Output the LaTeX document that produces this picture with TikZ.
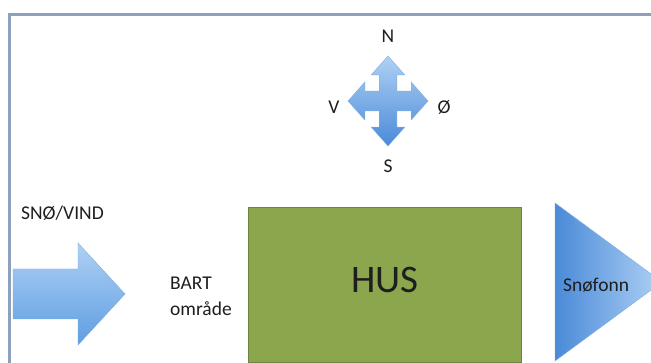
\documentclass[tikz,border=0pt]{standalone}
\usepackage{fontspec}
\setmainfont{Carlito}
\definecolor{framec}{HTML}{8DA1BC}
\definecolor{husgreen}{HTML}{8BA64D}
\definecolor{bluelight}{HTML}{AFD1F4}
\definecolor{bluemid}{HTML}{5E9DE2}
\definecolor{bluedark}{HTML}{4A8AD8}
\definecolor{txt}{HTML}{1E1E1E}
\begin{document}
\begin{tikzpicture}[x=1pt,y=-1pt,
  lbl/.style={font=\fontsize{19.5}{23}\selectfont, text=txt, inner sep=0pt},
  biglbl/.style={font=\fontsize{39}{46}\selectfont, text=txt, inner sep=0pt},
  blueshape/.style={draw=bluedark!70, line width=0.4pt}]
\useasboundingbox (0,0) rectangle (651,363);
\clip (0,0) rectangle (651,363);
\fill[white] (0,0) rectangle (651,363);
% frame
\draw[framec, line width=3pt] (9.5,15) rectangle (700,420);
% compass
\begin{scope}[shift={(388,101)}, x=40pt, y=-45pt]
\shade[top color=bluelight, bottom color=bluedark, blueshape]
 (0,-1) -- (0.42,-0.58) -- (0.22,-0.58) -- (0.22,-0.22) -- (0.58,-0.22) -- (0.58,-0.42)
 -- (1,0) -- (0.58,0.42) -- (0.58,0.22) -- (0.22,0.22) -- (0.22,0.58) -- (0.42,0.58)
 -- (0,1) -- (-0.42,0.58) -- (-0.22,0.58) -- (-0.22,0.22) -- (-0.58,0.22) -- (-0.58,0.42)
 -- (-1,0) -- (-0.58,-0.42) -- (-0.58,-0.22) -- (-0.22,-0.22) -- (-0.22,-0.58) -- (-0.42,-0.58)
 -- cycle;
\end{scope}
\node[lbl, anchor=base] (n) at (388,43) {N};
\node[lbl, anchor=base] (s) at (388,173) {S};
\node[lbl, anchor=base] (v) at (334,114) {V};
\node[lbl, anchor=base] (o) at (444,114) {Ø};
% wind arrow
\shade[top color=bluelight, bottom color=bluemid, blueshape]
 (13,269) -- (78,269) -- (78,243) -- (125,294) -- (78,345) -- (78,319) -- (13,319) -- cycle;
\node[lbl, anchor=base west] (wind) at (21,220) {SNØ/VIND};
\node[lbl, anchor=base west] (bart) at (170,290) {BART};
\node[lbl, anchor=base west] (omr) at (170,316) {område};
% house
\fill[husgreen] (248,207) rectangle (521,362);
\draw[husgreen!80!black, line width=0.5pt] (248,207) rectangle (521,362);
\node[biglbl, anchor=base] (hus) at (385,293) {HUS};
% drift
\shade[left color=bluedark, right color=bluelight, blueshape]
 (555,203) -- (662,282) -- (555,361) -- cycle;
\node[lbl, anchor=base west] (drift) at (563,292) {Snøfonn};
\end{tikzpicture}
\end{document}
